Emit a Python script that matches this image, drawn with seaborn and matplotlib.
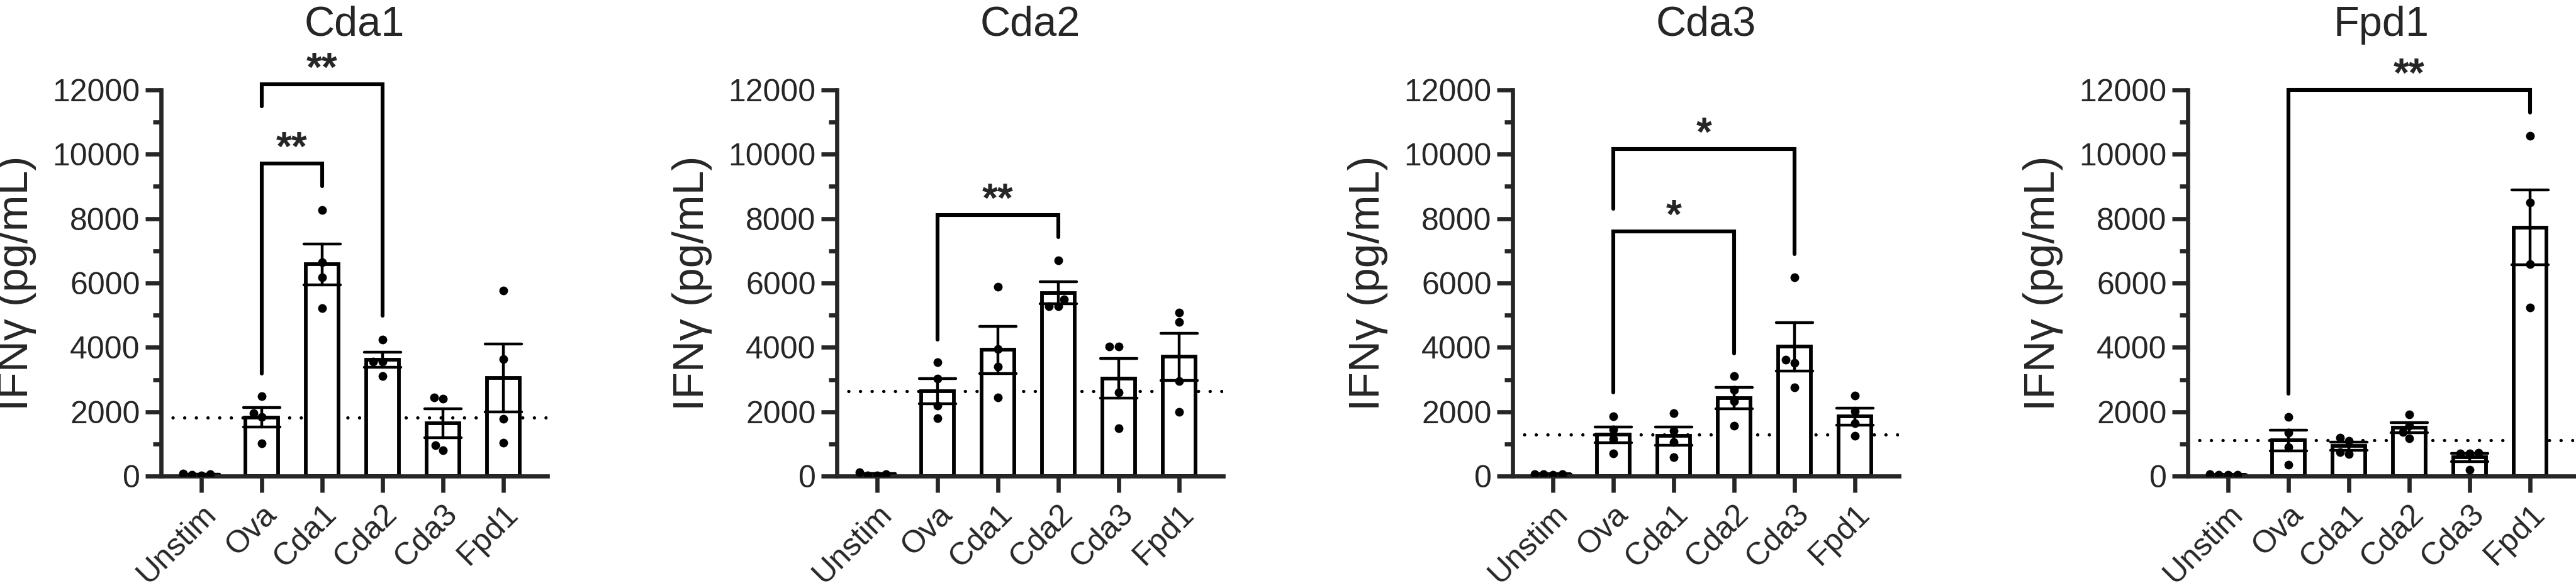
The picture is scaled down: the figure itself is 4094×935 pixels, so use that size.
import numpy as np
import pandas as pd
import matplotlib
matplotlib.use('Agg')
import matplotlib.pyplot as plt
from matplotlib.ticker import MultipleLocator
import seaborn as sns

groups = ['Unstim', 'Ova', 'Cda1', 'Cda2', 'Cda3', 'Fpd1']
panels = ['Cda1', 'Cda2', 'Cda3', 'Fpd1']

# IFNg (pg/mL) per mouse, one list per stimulation group, same order as groups
cda1_mice = [[60, 20, 70, 30],
             [2480, 1950, 1830, 1020],
             [8275, 6640, 6180, 5220],
             [4250, 3560, 3560, 3110],
             [2450, 2400, 950, 800],
             [5760, 3630, 1770, 1030]]
cda2_mice = [[20, 110, 10, 60],
             [3540, 3020, 2190, 1800],
             [5885, 3940, 3400, 2450],
             [6700, 5500, 5280, 5280],
             [4020, 4020, 2600, 1480],
             [5090, 4780, 2950, 2000]]
cda3_mice = [[50, 40, 60, 50],
             [1850, 1450, 1150, 700],
             [1946, 1400, 1050, 583],
             [3110, 2680, 2330, 1573],
             [6177, 3613, 3520, 2762],
             [2506, 2005, 1632, 1247]]
fpd1_mice = [[40, 30, 50, 40],
             [1841, 1340, 897, 350],
             [1200, 1100, 750, 680],
             [1923, 1573, 1364, 1165],
             [723, 700, 700, 198],
             [10571, 8508, 6585, 5245]]

# significance brackets: (from, to, top, left leg end, right leg end, label)
cda1_sig = [('Ova', 'Cda1', 9710, 3180, 9010, '**'),
            ('Ova', 'Cda2', 12180, 11500, 4980, '**')]
cda2_sig = [('Ova', 'Cda2', 8120, 4250, 7420, '**')]
cda3_sig = [('Ova', 'Cda2', 7610, 2590, 3810, '*'),
            ('Ova', 'Cda3', 10160, 8310, 6900, '*')]
fpd1_sig = [('Ova', 'Fpd1', 12000, 2560, 11300, '**')]

all_mice = [cda1_mice, cda2_mice, cda3_mice, fpd1_mice]
all_sig = [cda1_sig, cda2_sig, cda3_sig, fpd1_sig]

sns.set_style('ticks')
plt.rcParams['font.family'] = ['Liberation Sans', 'DejaVu Sans']

W, H = 4094, 935
fig = plt.figure(figsize=(W / 200, H / 200), dpi=200)
lefts = [256, 1330, 2404, 3477]

for i, name in enumerate(panels):
    rows = []
    for g, vals in zip(groups, all_mice[i]):
        for v in vals:
            rows.append({'group': g, 'ifng': v})
    df = pd.DataFrame(rows)

    ax = fig.add_axes([lefts[i] / W, 178 / H, 614 / W, 614 / H])

    # dotted reference line at the Ova mean
    ax.axhline(np.mean(all_mice[i][1]), color='black', lw=1.9,
               ls=(0, (0.01, 3.5)), dash_capstyle='round', zorder=0.5)

    sns.barplot(data=df, x='group', y='ifng', order=groups, ax=ax,
                errorbar='se', width=0.55, color='white', edgecolor='black',
                linewidth=2.1, capsize=0.6,
                err_kws={'color': 'black', 'linewidth': 1.6})
    sns.swarmplot(data=df, x='group', y='ifng', order=groups, ax=ax,
                  color='black', size=5, zorder=4)

    for a, b, top, lo1, lo2, stars in all_sig[i]:
        x1, x2 = groups.index(a), groups.index(b)
        ax.plot([x1, x1, x2, x2], [lo1, top, top, lo2], color='black', lw=2.2,
                clip_on=False, solid_joinstyle='miter', zorder=5)
        ax.text((x1 + x2) / 2, top + 100, stars, ha='center', va='baseline',
                fontsize=23, fontweight='bold', clip_on=False)

    ax.set_xlim(-0.667, 5.73)
    ax.set_ylim(0, 12000)
    ax.set_yticks(range(0, 12001, 2000))
    ax.yaxis.set_minor_locator(MultipleLocator(1000))
    ax.set_xticks(range(len(groups)))
    ax.set_xticklabels(groups, rotation=45, ha='right', rotation_mode='anchor')

    sns.despine(ax=ax)
    for s in ['left', 'bottom']:
        ax.spines[s].set_linewidth(2.4)
    ax.tick_params(axis='y', which='major', length=9, width=2.4, labelsize=18, pad=3)
    ax.tick_params(axis='y', which='minor', length=4.7, width=2.4)
    ax.tick_params(axis='x', length=9.4, width=2.4, labelsize=18, pad=4)

    ax.set_xlabel('')
    ax.set_ylabel('IFNγ (pg/mL)', fontsize=25, labelpad=9)
    ax.set_title(name, fontsize=24, pad=31)

fig.savefig('out.png', dpi=200)
